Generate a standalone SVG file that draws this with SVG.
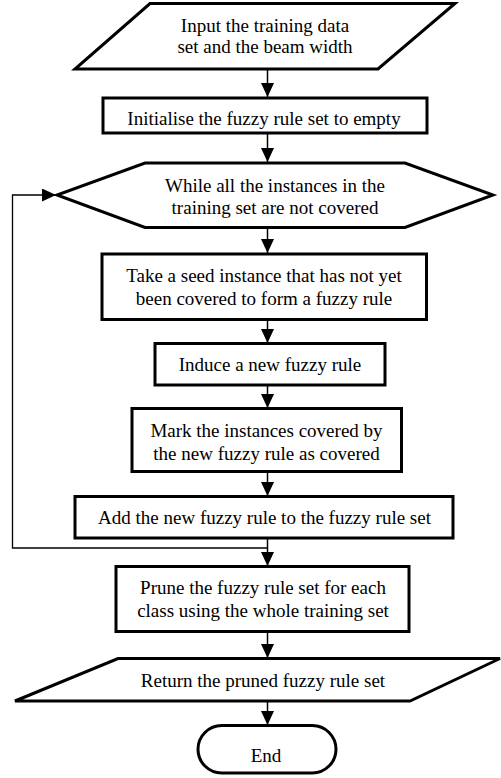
<svg xmlns="http://www.w3.org/2000/svg" width="501" height="778" viewBox="0 0 501 778">
<defs>
<marker id="arr" markerUnits="userSpaceOnUse" markerWidth="14" markerHeight="13" refX="14" refY="6.5" orient="auto">
<path d="M0,0 L14,6.5 L0,13 z" fill="#000"/>
</marker>
<style>
.shape{fill:#fff;stroke:#000;stroke-width:3;stroke-linejoin:miter}
.conn{fill:none;stroke:#000;stroke-width:1.5}
.fb{fill:none;stroke:#000;stroke-width:1.3}
text{font-family:"Liberation Serif","Times New Roman",serif;font-size:19px;text-anchor:middle;fill:#000}
</style>
</defs>
<rect width="501" height="778" fill="#fff"/>
<g id="connectors">
<line class="conn" x1="267.5" y1="69" x2="267.5" y2="97" marker-end="url(#arr)"/>
<line class="conn" x1="267.5" y1="134" x2="267.5" y2="162" marker-end="url(#arr)"/>
<line class="conn" x1="267.5" y1="228" x2="267.5" y2="253" marker-end="url(#arr)"/>
<line class="conn" x1="267.5" y1="320" x2="267.5" y2="343" marker-end="url(#arr)"/>
<line class="conn" x1="267.5" y1="385" x2="267.5" y2="408" marker-end="url(#arr)"/>
<line class="conn" x1="267.5" y1="472" x2="267.5" y2="496" marker-end="url(#arr)"/>
<line class="conn" x1="267.5" y1="538" x2="267.5" y2="566" marker-end="url(#arr)"/>
<line class="conn" x1="267.5" y1="632" x2="267.5" y2="658" marker-end="url(#arr)"/>
<line class="conn" x1="267.5" y1="701" x2="267.5" y2="725" marker-end="url(#arr)"/>
<polyline class="fb" points="267.5,548 12.5,548 12.5,195 56,195" marker-end="url(#arr)"/>
</g>
<g id="input">
<polygon class="shape" points="150,3.5 455,3.5 378,69 75,69"/>
<text x="265" y="32">Input the training data</text>
<text x="265" y="53">set and the beam width</text>
</g>
<g id="init">
<rect class="shape" x="103" y="98" width="324" height="35"/>
<text x="264" y="125">Initialise the fuzzy rule set to empty</text>
</g>
<g id="while">
<polygon class="shape" points="145,163 405,163 493,195 405,227.5 145,227.5 57,195"/>
<text x="275" y="191.5">While all the instances in the</text>
<text x="275" y="213.5">training set are not covered</text>
</g>
<g id="seed">
<rect class="shape" x="102" y="254" width="324.5" height="65.5"/>
<text x="264" y="281.5">Take a seed instance that has not yet</text>
<text x="264" y="305">been covered to form a fuzzy rule</text>
</g>
<g id="induce">
<rect class="shape" x="155" y="343.5" width="230" height="41.5"/>
<text x="270" y="370.5">Induce a new fuzzy rule</text>
</g>
<g id="mark">
<rect class="shape" x="132" y="408.5" width="269.5" height="63"/>
<text x="266.5" y="436.5">Mark the instances covered by</text>
<text x="266.5" y="459.5">the new fuzzy rule as covered</text>
</g>
<g id="add">
<rect class="shape" x="75" y="496.5" width="378" height="41.5"/>
<text x="264.5" y="524">Add the new fuzzy rule to the fuzzy rule set</text>
</g>
<g id="prune">
<rect class="shape" x="116" y="566.5" width="293" height="65"/>
<text x="263" y="593.5">Prune the fuzzy rule set for each</text>
<text x="263" y="616.5">class using the whole training set</text>
</g>
<g id="return">
<polygon class="shape" points="118,658.5 500,658.5 410,701 15,701"/>
<text x="263" y="686.5">Return the pruned fuzzy rule set</text>
</g>
<g id="end">
<rect class="shape" x="198" y="725.5" width="138" height="47.5" rx="23.75" ry="23.75"/>
<text x="266" y="761.5">End</text>
</g>
</svg>
